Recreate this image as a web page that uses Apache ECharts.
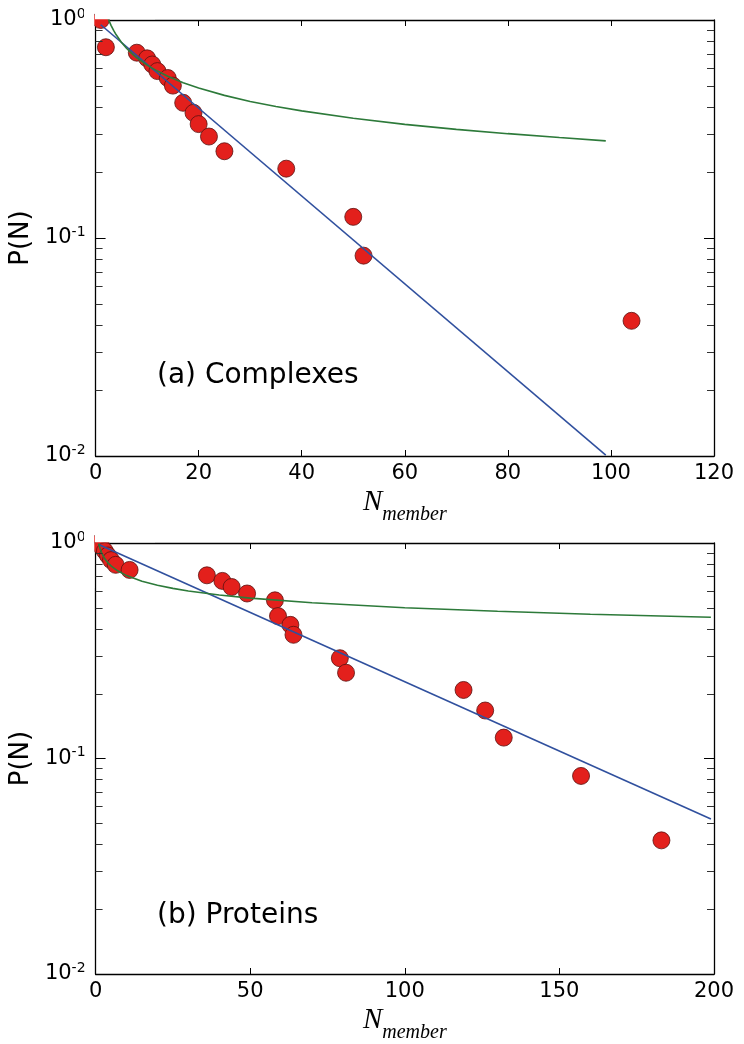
<!DOCTYPE html>
<html>
<head>
<meta charset="utf-8">
<script src="https://cdn.jsdelivr.net/npm/echarts@6/dist/echarts.min.js"></script>
<style>html,body{margin:0;padding:0;background:#fff;}#c{width:744px;height:1044px;}</style>
</head>
<body>
<div id="c"></div>
<script>
// ---- Panel (a) Complexes ----
const complexX = [1, 2, 8, 10, 11, 12, 14, 15, 17, 19, 20, 22, 25, 37, 50, 52, 104];
const complexY = [1.0, 0.75, 0.708, 0.667, 0.625, 0.583, 0.542, 0.5, 0.417, 0.375, 0.333, 0.292, 0.25, 0.208, 0.125, 0.083, 0.0417];
const complexExpX = [1, 99];
const complexExpY = [0.951, 0.0101];
const complexPowX = [2, 2.5, 3, 3.5, 4, 5, 6, 7, 8, 10, 12, 14, 17, 20, 25, 30, 35, 40, 50, 60, 70, 80, 90, 99];
const complexPowY = [1.089, 1.007, 0.945, 0.896, 0.855, 0.791, 0.742, 0.703, 0.671, 0.621, 0.583, 0.552, 0.516, 0.488, 0.451, 0.423, 0.401, 0.383, 0.354, 0.332, 0.315, 0.301, 0.289, 0.279];

// ---- Panel (b) Proteins ----
const proteinX = [1, 2, 3, 4, 5, 6.5, 11, 36, 41, 44, 49, 58, 59, 63, 64, 79, 81, 119, 126, 132, 157, 183];
const proteinY = [1.0, 0.958, 0.917, 0.875, 0.833, 0.792, 0.75, 0.708, 0.667, 0.625, 0.583, 0.542, 0.458, 0.417, 0.375, 0.292, 0.25, 0.208, 0.167, 0.125, 0.083, 0.0417];
const proteinExpX = [1, 199];
const proteinExpY = [0.985, 0.0524];
const proteinPowX = [1, 1.5, 2, 3, 4, 5, 7, 10, 15, 20, 25, 30, 40, 50, 70, 100, 130, 160, 199];
const proteinPowY = [0.995, 0.937, 0.897, 0.845, 0.809, 0.783, 0.745, 0.706, 0.665, 0.637, 0.616, 0.599, 0.574, 0.555, 0.528, 0.501, 0.482, 0.467, 0.452];

// ---- Axes ----
const xRangeA = [0, 120], xStepA = 20;
const xRangeB = [0, 200], xStepB = 50;
const yRange = [0.01, 1];
const minorTickVals = [0.02,0.03,0.04,0.05,0.06,0.07,0.08,0.09,0.2,0.3,0.4,0.5,0.6,0.7,0.8,0.9];
const panelLabels = ['(a) Complexes', '(b) Proteins'];

const zip = (xs, ys) => xs.map((x, i) => [x, ys[i]]);

const RED = '#e3201c', BLUE = '#30509e', GREEN = '#2d7a3a';
const tickFont = 'DejaVu Sans';

function yLabelFmt(v) {
  const e = Math.round(Math.log10(v));
  return '{b|10}{s|' + e + '}';
}
const yLabelRich = {
  b: { fontSize: 21, fontFamily: tickFont, color: '#000', lineHeight: 26 },
  s: { fontSize: 14, fontFamily: tickFont, color: '#000', verticalAlign: 'top', lineHeight: 14 }
};

function xAxes(gridIndex, range, step) {
  const common = {
    type: 'value', gridIndex, min: range[0], max: range[1], interval: step,
    splitLine: { show: false },
    axisLine: { show: true, onZero: false, lineStyle: { color: '#000', width: 1.3 } },
    axisTick: { show: true, inside: true, length: 6, lineStyle: { color: '#000', width: 1 } }
  };
  return [
    Object.assign({}, common, {
      position: 'bottom',
      axisLabel: { show: true, fontSize: 21, fontFamily: tickFont, color: '#000', margin: 7,
        formatter: v => String(v) },
      name: '{n|N}{m|member}', nameLocation: 'middle', nameGap: 31,
      nameTextStyle: { rich: {
        n: { fontFamily: 'Liberation Serif', fontStyle: 'italic', fontSize: 29, color: '#000', lineHeight: 30 },
        m: { fontFamily: 'Liberation Serif', fontStyle: 'italic', fontSize: 20, color: '#000', verticalAlign: 'bottom', lineHeight: 20, padding: [0,0,-8,0] }
      } }
    }),
    Object.assign({}, common, { position: 'top', axisLabel: { show: false } })
  ];
}
function yAxes(gridIndex) {
  const common = {
    type: 'log', logBase: 10, gridIndex, min: yRange[0], max: yRange[1],
    splitLine: { show: false }, minorTick: { show: false },
    axisLine: { show: true, onZero: false, lineStyle: { color: '#000', width: 1.3 } },
    axisTick: { show: true, inside: true, length: 10, lineStyle: { color: '#000', width: 1 } }
  };
  return [
    Object.assign({}, common, {
      position: 'left',
      axisLabel: { show: true, formatter: yLabelFmt, rich: yLabelRich, margin: 10 },
      name: 'P(N)', nameLocation: 'middle', nameGap: 60,
      nameTextStyle: { fontFamily: tickFont, fontSize: 26, color: '#000' }
    }),
    Object.assign({}, common, { position: 'right', axisLabel: { show: false } })
  ];
}

function minorTickSeries(xi, yi, xr) {
  return {
    type: 'custom', xAxisIndex: xi, yAxisIndex: yi, silent: true, z: 5, clip: false,
    data: minorTickVals.map(v => [v]),
    renderItem: function (params, api) {
      const v = api.value(0);
      const l = api.coord([xr[0], v]);
      const r = api.coord([xr[1], v]);
      const st = { stroke: '#333', lineWidth: 1 };
      return { type: 'group', children: [
        { type: 'line', shape: { x1: l[0], y1: Math.round(l[1]) + 0.5, x2: l[0] + 7, y2: Math.round(l[1]) + 0.5 }, style: st },
        { type: 'line', shape: { x1: r[0], y1: Math.round(r[1]) + 0.5, x2: r[0] - 7, y2: Math.round(r[1]) + 0.5 }, style: st }
      ] };
    }
  };
}

function panelSeries(xi, yi, pts, ex, pw) {
  return [
    { type: 'scatter', xAxisIndex: xi, yAxisIndex: yi, data: pts, symbol: 'circle', symbolSize: 17, z: 2,
      itemStyle: { color: RED, borderColor: '#5a1210', borderWidth: 0.8, opacity: 1 }, silent: true },
    { type: 'line', xAxisIndex: xi, yAxisIndex: yi, data: ex, showSymbol: false, symbol: 'none', z: 3,
      lineStyle: { color: BLUE, width: 1.6 }, silent: true },
    { type: 'line', xAxisIndex: xi, yAxisIndex: yi, data: pw, showSymbol: false, symbol: 'none', z: 3,
      smooth: false, lineStyle: { color: GREEN, width: 1.6 }, silent: true }
  ];
}

const chart = echarts.init(document.getElementById('c'), null, { renderer: 'canvas' });
const option = {
  animation: false,
  backgroundColor: '#fff',
  grid: [
    { left: 95, right: 30, top: 20, height: 436 },
    { left: 95, right: 30, top: 543, height: 437 }
  ],
  xAxis: [].concat(xAxes(0, xRangeA, xStepA), xAxes(1, xRangeB, xStepB)),
  yAxis: [].concat(yAxes(0), yAxes(1)),
  series: [].concat(
    panelSeries(0, 0, zip(complexX, complexY), zip(complexExpX, complexExpY), zip(complexPowX, complexPowY)),
    panelSeries(2, 2, zip(proteinX, proteinY), zip(proteinExpX, proteinExpY), zip(proteinPowX, proteinPowY)),
    [minorTickSeries(0, 0, xRangeA), minorTickSeries(2, 2, xRangeB)]
  ),
  graphic: [
    // masks that clip the markers lying on the frame edges, as in the original
    { type: 'rect', z: 100, silent: true, shape: { x: 95, y: 0, width: 60, height: 19.3 }, style: { fill: '#fff' } },
    { type: 'rect', z: 100, silent: true, shape: { x: 84, y: 0, width: 10.3, height: 60 }, style: { fill: '#fff' } },
    { type: 'rect', z: 100, silent: true, shape: { x: 95, y: 515, width: 60, height: 27.3 }, style: { fill: '#fff' } },
    { type: 'rect', z: 100, silent: true, shape: { x: 84, y: 528, width: 10.3, height: 60 }, style: { fill: '#fff' } },
    { type: 'text', left: 157, top: 362, style: { text: panelLabels[0], fontFamily: tickFont, fontSize: 28, fill: '#000' } },
    { type: 'text', left: 157, top: 902, style: { text: panelLabels[1], fontFamily: tickFont, fontSize: 28, fill: '#000' } }
  ]
};
chart.setOption(option);
</script>
</body>
</html>
